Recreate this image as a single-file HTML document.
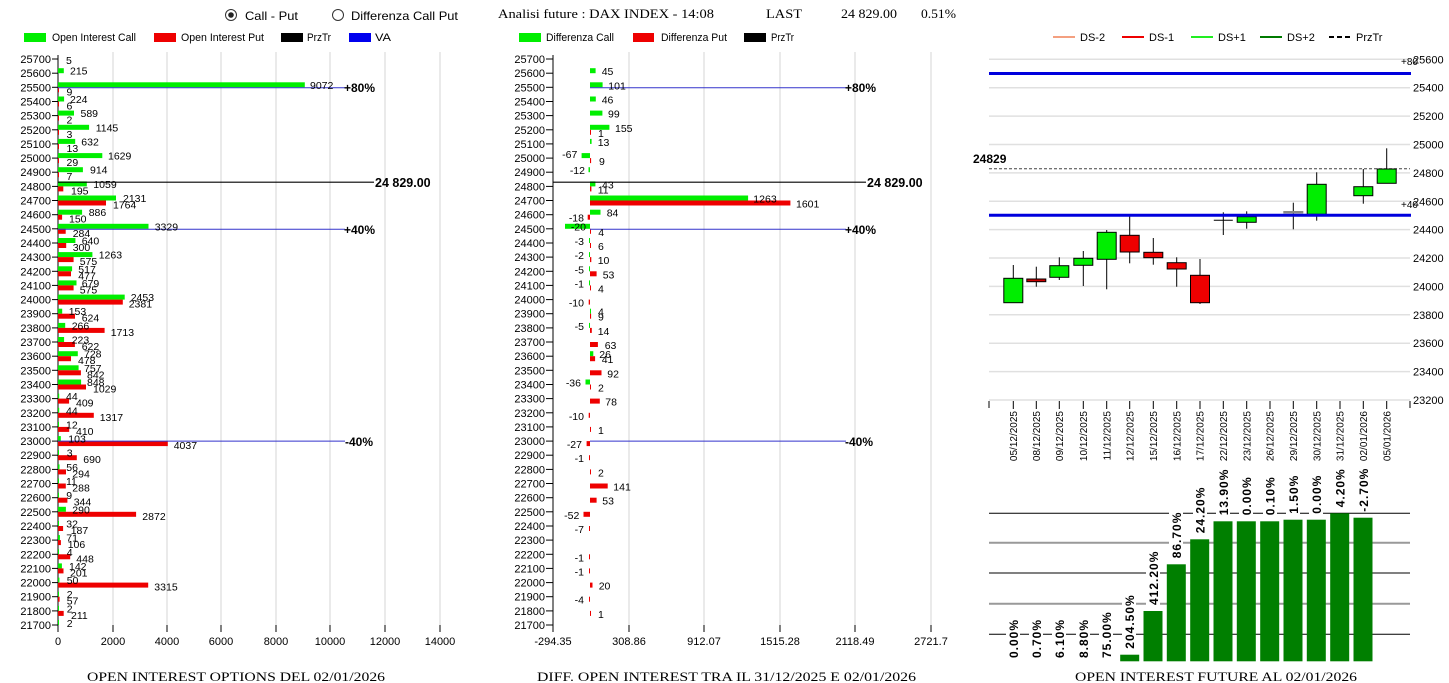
<!DOCTYPE html>
<html><head><meta charset="utf-8"><style>
html,body{margin:0;padding:0;background:#fff;}
svg{display:block;font-family:"Liberation Sans",sans-serif;}
.t{font-size:10.5px;fill:#000;}
.ax{font-size:11px;fill:#000;}
.n{font-family:"Liberation Sans",sans-serif;font-size:11px;}
.sf{font-family:"Liberation Serif",serif;font-size:12.5px;}
.b{font-weight:bold;font-size:12px;}
.g{fill:#00ee00}.r{fill:#ee0000}
</style></head><body>
<svg width="1449" height="683" viewBox="0 0 1449 683" xmlns="http://www.w3.org/2000/svg">
<!-- header -->
<circle cx="231" cy="15" r="5.5" fill="#fff" stroke="#333"/><circle cx="231" cy="15" r="2.8" fill="#222"/>
<text x="245" y="20" font-size="12" textLength="53" lengthAdjust="spacingAndGlyphs">Call - Put</text>
<circle cx="338" cy="15" r="5.5" fill="#fff" stroke="#333"/>
<text x="351" y="20" font-size="12" textLength="107" lengthAdjust="spacingAndGlyphs">Differenza Call Put</text>
<text class="sf" x="498" y="18" textLength="216" lengthAdjust="spacingAndGlyphs">Analisi future : DAX INDEX - 14:08</text>
<text class="sf" x="766" y="18" textLength="36" lengthAdjust="spacingAndGlyphs">LAST</text>
<text class="sf" x="841" y="18" textLength="56" lengthAdjust="spacingAndGlyphs">24 829.00</text>
<text class="sf" x="921" y="18" textLength="35" lengthAdjust="spacingAndGlyphs">0.51%</text>
<!-- legends -->
<rect x="24" y="33" width="22" height="9" fill="#00ee00"/><text class="n" x="52" y="41" textLength="84" lengthAdjust="spacingAndGlyphs">Open Interest Call</text>
<rect x="154" y="33" width="22" height="9" fill="#ee0000"/><text class="n" x="181" y="41" textLength="83" lengthAdjust="spacingAndGlyphs">Open Interest Put</text>
<rect x="281" y="33" width="22" height="9" fill="#000"/><text class="n" x="307" y="41" textLength="24" lengthAdjust="spacingAndGlyphs">PrzTr</text>
<rect x="349" y="33" width="22" height="9" fill="#0000ee"/><text class="n" x="375" y="41" textLength="16" lengthAdjust="spacingAndGlyphs">VA</text>
<rect x="519" y="33" width="22" height="9" fill="#00ee00"/><text class="n" x="546" y="41" textLength="68" lengthAdjust="spacingAndGlyphs">Differenza Call</text>
<rect x="633" y="33" width="21" height="9" fill="#ee0000"/><text class="n" x="661" y="41" textLength="66" lengthAdjust="spacingAndGlyphs">Differenza Put</text>
<rect x="744" y="33" width="22" height="9" fill="#000"/><text class="n" x="771" y="41" textLength="23" lengthAdjust="spacingAndGlyphs">PrzTr</text>
<line x1="1053" y1="37" x2="1075" y2="37" stroke="#f4a080" stroke-width="2"/><text class="ax" x="1080" y="41">DS-2</text>
<line x1="1122" y1="37" x2="1144" y2="37" stroke="#ee0000" stroke-width="2"/><text class="ax" x="1149" y="41">DS-1</text>
<line x1="1191" y1="37" x2="1213" y2="37" stroke="#22ee22" stroke-width="2"/><text class="ax" x="1218" y="41">DS+1</text>
<line x1="1260" y1="37" x2="1282" y2="37" stroke="#007a00" stroke-width="2"/><text class="ax" x="1287" y="41">DS+2</text>
<line x1="1329" y1="37" x2="1351" y2="37" stroke="#000" stroke-width="2" stroke-dasharray="5,3"/><text class="ax" x="1356" y="41">PrzTr</text>

<!-- LEFT CHART -->
<g stroke="#d4d4d4" stroke-width="1">
<line x1="113" y1="52" x2="113" y2="625"/><line x1="167" y1="52" x2="167" y2="625"/><line x1="221" y1="52" x2="221" y2="625"/><line x1="276" y1="52" x2="276" y2="625"/><line x1="330" y1="52" x2="330" y2="625"/><line x1="385" y1="52" x2="385" y2="625"/><line x1="440" y1="52" x2="440" y2="625"/>
</g>
<g stroke="#000"><line x1="58" y1="55" x2="58" y2="632"/>
<line x1="58" y1="625" x2="58" y2="632"/><line x1="113" y1="625" x2="113" y2="632"/><line x1="167" y1="625" x2="167" y2="632"/><line x1="221" y1="625" x2="221" y2="632"/><line x1="276" y1="625" x2="276" y2="632"/><line x1="330" y1="625" x2="330" y2="632"/><line x1="385" y1="625" x2="385" y2="632"/><line x1="440" y1="625" x2="440" y2="632"/>
</g>
<g class="ax" text-anchor="middle"><text x="58" y="645">0</text><text x="113" y="645">2000</text><text x="167" y="645">4000</text><text x="221" y="645">6000</text><text x="276" y="645">8000</text><text x="330" y="645">10000</text><text x="385" y="645">12000</text><text x="440" y="645">14000</text></g>
<g stroke="#000">
<line x1="52" y1="59" x2="58" y2="59"/><line x1="52" y1="73.2" x2="58" y2="73.2"/><line x1="52" y1="87.3" x2="58" y2="87.3"/><line x1="52" y1="101.5" x2="58" y2="101.5"/><line x1="52" y1="115.6" x2="58" y2="115.6"/><line x1="52" y1="129.8" x2="58" y2="129.8"/><line x1="52" y1="143.9" x2="58" y2="143.9"/><line x1="52" y1="158.1" x2="58" y2="158.1"/><line x1="52" y1="172.2" x2="58" y2="172.2"/><line x1="52" y1="186.4" x2="58" y2="186.4"/><line x1="52" y1="200.5" x2="58" y2="200.5"/><line x1="52" y1="214.7" x2="58" y2="214.7"/><line x1="52" y1="228.8" x2="58" y2="228.8"/><line x1="52" y1="243" x2="58" y2="243"/><line x1="52" y1="257.1" x2="58" y2="257.1"/><line x1="52" y1="271.3" x2="58" y2="271.3"/><line x1="52" y1="285.4" x2="58" y2="285.4"/><line x1="52" y1="299.6" x2="58" y2="299.6"/><line x1="52" y1="313.7" x2="58" y2="313.7"/><line x1="52" y1="327.9" x2="58" y2="327.9"/><line x1="52" y1="342" x2="58" y2="342"/><line x1="52" y1="356.2" x2="58" y2="356.2"/><line x1="52" y1="370.3" x2="58" y2="370.3"/><line x1="52" y1="384.5" x2="58" y2="384.5"/><line x1="52" y1="398.6" x2="58" y2="398.6"/><line x1="52" y1="412.8" x2="58" y2="412.8"/><line x1="52" y1="426.9" x2="58" y2="426.9"/><line x1="52" y1="441.1" x2="58" y2="441.1"/><line x1="52" y1="455.2" x2="58" y2="455.2"/><line x1="52" y1="469.4" x2="58" y2="469.4"/><line x1="52" y1="483.5" x2="58" y2="483.5"/><line x1="52" y1="497.7" x2="58" y2="497.7"/><line x1="52" y1="511.8" x2="58" y2="511.8"/><line x1="52" y1="526" x2="58" y2="526"/><line x1="52" y1="540.1" x2="58" y2="540.1"/><line x1="52" y1="554.3" x2="58" y2="554.3"/><line x1="52" y1="568.4" x2="58" y2="568.4"/><line x1="52" y1="582.6" x2="58" y2="582.6"/><line x1="52" y1="596.7" x2="58" y2="596.7"/><line x1="52" y1="610.9" x2="58" y2="610.9"/><line x1="52" y1="625" x2="58" y2="625"/>
</g>
<g class="ax" text-anchor="end">
<text x="51" y="63">25700</text><text x="51" y="77.2">25600</text><text x="51" y="91.3">25500</text><text x="51" y="105.5">25400</text><text x="51" y="119.6">25300</text><text x="51" y="133.8">25200</text><text x="51" y="147.9">25100</text><text x="51" y="162.1">25000</text><text x="51" y="176.2">24900</text><text x="51" y="190.4">24800</text><text x="51" y="204.5">24700</text><text x="51" y="218.7">24600</text><text x="51" y="232.8">24500</text><text x="51" y="247">24400</text><text x="51" y="261.1">24300</text><text x="51" y="275.3">24200</text><text x="51" y="289.4">24100</text><text x="51" y="303.6">24000</text><text x="51" y="317.7">23900</text><text x="51" y="331.9">23800</text><text x="51" y="346">23700</text><text x="51" y="360.2">23600</text><text x="51" y="374.3">23500</text><text x="51" y="388.5">23400</text><text x="51" y="402.6">23300</text><text x="51" y="416.8">23200</text><text x="51" y="430.9">23100</text><text x="51" y="445.1">23000</text><text x="51" y="459.2">22900</text><text x="51" y="473.4">22800</text><text x="51" y="487.5">22700</text><text x="51" y="501.7">22600</text><text x="51" y="515.8">22500</text><text x="51" y="530">22400</text><text x="51" y="544.1">22300</text><text x="51" y="558.3">22200</text><text x="51" y="572.4">22100</text><text x="51" y="586.6">22000</text><text x="51" y="600.7">21900</text><text x="51" y="614.9">21800</text><text x="51" y="629">21700</text>
</g>
<g class="g">
<rect x="58" y="68.2" width="5.8" height="5"/><rect x="58" y="82.3" width="246.8" height="5"/><rect x="58" y="96.5" width="6.1" height="5"/><rect x="58" y="110.6" width="16" height="5"/><rect x="58" y="124.8" width="31.1" height="5"/><rect x="58" y="138.9" width="17.2" height="5"/><rect x="58" y="153.1" width="44.3" height="5"/><rect x="58" y="167.2" width="24.9" height="5"/><rect x="58" y="181.4" width="28.8" height="5"/><rect x="58" y="195.5" width="58" height="5"/><rect x="58" y="209.7" width="24.1" height="5"/><rect x="58" y="223.8" width="90.5" height="5"/><rect x="58" y="238" width="17.4" height="5"/><rect x="58" y="252.1" width="34.4" height="5"/><rect x="58" y="266.3" width="14.1" height="5"/><rect x="58" y="280.4" width="18.5" height="5"/><rect x="58" y="294.6" width="66.7" height="5"/><rect x="58" y="308.7" width="4.2" height="5"/><rect x="58" y="322.9" width="7.2" height="5"/><rect x="58" y="337" width="6.1" height="5"/><rect x="58" y="351.2" width="19.8" height="5"/><rect x="58" y="365.3" width="20.6" height="5"/><rect x="58" y="379.5" width="23.1" height="5"/><rect x="58" y="393.6" width="1.2" height="5"/><rect x="58" y="407.8" width="1.2" height="5"/><rect x="58" y="421.9" width="1" height="5"/><rect x="58" y="436.1" width="2.8" height="5"/><rect x="58" y="450.2" width="1" height="5"/><rect x="58" y="464.4" width="1.5" height="5"/><rect x="58" y="478.5" width="1" height="5"/><rect x="58" y="492.7" width="1" height="5"/><rect x="58" y="506.8" width="7.9" height="5"/><rect x="58" y="521" width="1" height="5"/><rect x="58" y="535.1" width="1.9" height="5"/><rect x="58" y="549.3" width="1" height="5"/><rect x="58" y="563.4" width="3.9" height="5"/><rect x="58" y="577.6" width="1.4" height="5"/><rect x="58" y="591.7" width="1" height="5"/><rect x="58" y="605.9" width="1" height="5"/><rect x="58" y="620" width="1" height="5"/>
</g>
<g class="r">
<rect x="58" y="87.3" width="1" height="5"/><rect x="58" y="101.5" width="1" height="5"/><rect x="58" y="115.6" width="1" height="5"/><rect x="58" y="129.8" width="1" height="5"/><rect x="58" y="143.9" width="1" height="5"/><rect x="58" y="158.1" width="1" height="5"/><rect x="58" y="172.2" width="1" height="5"/><rect x="58" y="186.4" width="5.3" height="5"/><rect x="58" y="200.5" width="48" height="5"/><rect x="58" y="214.7" width="4.1" height="5"/><rect x="58" y="228.8" width="7.7" height="5"/><rect x="58" y="243" width="8.2" height="5"/><rect x="58" y="257.1" width="15.6" height="5"/><rect x="58" y="271.3" width="13" height="5"/><rect x="58" y="285.4" width="15.6" height="5"/><rect x="58" y="299.6" width="64.8" height="5"/><rect x="58" y="313.7" width="17" height="5"/><rect x="58" y="327.9" width="46.6" height="5"/><rect x="58" y="342" width="16.9" height="5"/><rect x="58" y="356.2" width="13" height="5"/><rect x="58" y="370.3" width="22.9" height="5"/><rect x="58" y="384.5" width="28" height="5"/><rect x="58" y="398.6" width="11.1" height="5"/><rect x="58" y="412.8" width="35.8" height="5"/><rect x="58" y="426.9" width="11.2" height="5"/><rect x="58" y="441.1" width="109.8" height="5"/><rect x="58" y="455.2" width="18.8" height="5"/><rect x="58" y="469.4" width="8" height="5"/><rect x="58" y="483.5" width="7.8" height="5"/><rect x="58" y="497.7" width="9.4" height="5"/><rect x="58" y="511.8" width="78.1" height="5"/><rect x="58" y="526" width="5.1" height="5"/><rect x="58" y="540.1" width="2.9" height="5"/><rect x="58" y="554.3" width="12.2" height="5"/><rect x="58" y="568.4" width="5.5" height="5"/><rect x="58" y="582.6" width="90.2" height="5"/><rect x="58" y="596.7" width="1.6" height="5"/><rect x="58" y="610.9" width="5.7" height="5"/>
</g>
<line x1="58" y1="182.2" x2="374" y2="182.2" stroke="#000" stroke-width="1.2"/>
<text x="375" y="187" font-size="12.5" font-weight="bold">24 829.00</text>
<g stroke="#3333cc" stroke-width="1"><line x1="58" y1="87.8" x2="345" y2="87.8"/><line x1="58" y1="229.3" x2="345" y2="229.3"/><line x1="58" y1="441.1" x2="345" y2="441.1"/></g>
<g class="b"><text x="344" y="92">+80%</text><text x="344" y="234">+40%</text><text x="345" y="446">-40%</text></g>
<g class="t">
<text x="66" y="64">5</text>
<text x="70" y="74.7">215</text><text x="310" y="88.8">9072</text><text x="66.5" y="95.3">9</text>
<text x="70" y="103">224</text><text x="66.5" y="109.5">6</text>
<text x="80.5" y="117.1">589</text><text x="66.5" y="123.6">2</text>
<text x="95.7" y="131.3">1145</text><text x="66.5" y="137.8">3</text>
<text x="81.3" y="145.4">632</text><text x="66.5" y="151.9">13</text>
<text x="108" y="159.6">1629</text><text x="66.5" y="166.1">29</text>
<text x="90" y="173.7">914</text><text x="66.5" y="180.2">7</text>
<text x="93.3" y="187.9">1059</text><text x="71" y="194.4">195</text>
<text x="123" y="202">2131</text><text x="113" y="208.5">1764</text>
<text x="88.7" y="216.2">886</text><text x="69" y="222.7">150</text>
<text x="154.7" y="230.3">3329</text><text x="72.7" y="236.8">284</text>
<text x="81.7" y="244.5">640</text><text x="72.7" y="251">300</text>
<text x="98.7" y="258.6">1263</text><text x="79.7" y="265.1">575</text>
<text x="78.3" y="272.8">517</text><text x="78.3" y="279.3">477</text>
<text x="81.7" y="286.9">679</text><text x="79.7" y="293.4">575</text>
<text x="130.7" y="301.1">2453</text><text x="128.7" y="307.6">2381</text>
<text x="68.7" y="315.2">153</text><text x="81.7" y="321.7">624</text>
<text x="71.7" y="329.4">266</text><text x="110.7" y="335.9">1713</text>
<text x="71.7" y="343.5">223</text><text x="81.7" y="350">622</text>
<text x="84" y="357.7">728</text><text x="78" y="364.2">478</text>
<text x="84" y="371.8">757</text><text x="87" y="378.3">842</text>
<text x="87" y="386">848</text><text x="93" y="392.5">1029</text>
<text x="66" y="400.1">44</text><text x="76" y="406.6">409</text>
<text x="66" y="414.3">44</text><text x="99.7" y="420.8">1317</text>
<text x="66" y="428.4">12</text><text x="76" y="434.9">410</text>
<text x="68.3" y="442.6">103</text><text x="173.7" y="449.1">4037</text>
<text x="66.7" y="456.7">3</text><text x="83.3" y="463.2">690</text>
<text x="66.3" y="470.9">56</text><text x="72.3" y="477.4">294</text>
<text x="66" y="485">11</text><text x="72.3" y="491.5">288</text>
<text x="66.3" y="499.2">9</text><text x="73.7" y="505.7">344</text>
<text x="72.3" y="513.3">290</text><text x="142.3" y="519.8">2872</text>
<text x="66.3" y="527.5">32</text><text x="70.7" y="534">187</text>
<text x="66.3" y="541.6">71</text><text x="67.7" y="548.1">106</text>
<text x="66.7" y="555.8">4</text><text x="76.3" y="562.3">448</text>
<text x="69" y="569.9">142</text><text x="70" y="576.4">201</text>
<text x="66.7" y="584.1">50</text><text x="154.3" y="590.6">3315</text>
<text x="66.7" y="598.2">2</text><text x="66.7" y="604.7">57</text>
<text x="66.7" y="612.4">2</text><text x="71" y="618.9">211</text>
<text x="66.7" y="627">2</text>
</g>
<text class="sf" x="87" y="681" font-size="13" textLength="298" lengthAdjust="spacingAndGlyphs">OPEN INTEREST OPTIONS DEL 02/01/2026</text>

<!-- MIDDLE CHART -->
<g stroke="#d4d4d4"><line x1="629" y1="52" x2="629" y2="625"/><line x1="704" y1="52" x2="704" y2="625"/><line x1="780" y1="52" x2="780" y2="625"/><line x1="855" y1="52" x2="855" y2="625"/><line x1="931" y1="52" x2="931" y2="625"/></g>
<g stroke="#000"><line x1="553" y1="55" x2="553" y2="632"/>
<line x1="629" y1="625" x2="629" y2="632"/><line x1="704" y1="625" x2="704" y2="632"/><line x1="780" y1="625" x2="780" y2="632"/><line x1="855" y1="625" x2="855" y2="632"/><line x1="931" y1="625" x2="931" y2="632"/>
<line x1="546" y1="59" x2="553" y2="59"/><line x1="546" y1="73.2" x2="553" y2="73.2"/><line x1="546" y1="87.3" x2="553" y2="87.3"/><line x1="546" y1="101.5" x2="553" y2="101.5"/><line x1="546" y1="115.6" x2="553" y2="115.6"/><line x1="546" y1="129.8" x2="553" y2="129.8"/><line x1="546" y1="143.9" x2="553" y2="143.9"/><line x1="546" y1="158.1" x2="553" y2="158.1"/><line x1="546" y1="172.2" x2="553" y2="172.2"/><line x1="546" y1="186.4" x2="553" y2="186.4"/><line x1="546" y1="200.5" x2="553" y2="200.5"/><line x1="546" y1="214.7" x2="553" y2="214.7"/><line x1="546" y1="228.8" x2="553" y2="228.8"/><line x1="546" y1="243" x2="553" y2="243"/><line x1="546" y1="257.1" x2="553" y2="257.1"/><line x1="546" y1="271.3" x2="553" y2="271.3"/><line x1="546" y1="285.4" x2="553" y2="285.4"/><line x1="546" y1="299.6" x2="553" y2="299.6"/><line x1="546" y1="313.7" x2="553" y2="313.7"/><line x1="546" y1="327.9" x2="553" y2="327.9"/><line x1="546" y1="342" x2="553" y2="342"/><line x1="546" y1="356.2" x2="553" y2="356.2"/><line x1="546" y1="370.3" x2="553" y2="370.3"/><line x1="546" y1="384.5" x2="553" y2="384.5"/><line x1="546" y1="398.6" x2="553" y2="398.6"/><line x1="546" y1="412.8" x2="553" y2="412.8"/><line x1="546" y1="426.9" x2="553" y2="426.9"/><line x1="546" y1="441.1" x2="553" y2="441.1"/><line x1="546" y1="455.2" x2="553" y2="455.2"/><line x1="546" y1="469.4" x2="553" y2="469.4"/><line x1="546" y1="483.5" x2="553" y2="483.5"/><line x1="546" y1="497.7" x2="553" y2="497.7"/><line x1="546" y1="511.8" x2="553" y2="511.8"/><line x1="546" y1="526" x2="553" y2="526"/><line x1="546" y1="540.1" x2="553" y2="540.1"/><line x1="546" y1="554.3" x2="553" y2="554.3"/><line x1="546" y1="568.4" x2="553" y2="568.4"/><line x1="546" y1="582.6" x2="553" y2="582.6"/><line x1="546" y1="596.7" x2="553" y2="596.7"/><line x1="546" y1="610.9" x2="553" y2="610.9"/><line x1="546" y1="625" x2="553" y2="625"/>
</g>
<g class="ax" text-anchor="end">
<text x="545" y="63">25700</text><text x="545" y="77.2">25600</text><text x="545" y="91.3">25500</text><text x="545" y="105.5">25400</text><text x="545" y="119.6">25300</text><text x="545" y="133.8">25200</text><text x="545" y="147.9">25100</text><text x="545" y="162.1">25000</text><text x="545" y="176.2">24900</text><text x="545" y="190.4">24800</text><text x="545" y="204.5">24700</text><text x="545" y="218.7">24600</text><text x="545" y="232.8">24500</text><text x="545" y="247">24400</text><text x="545" y="261.1">24300</text><text x="545" y="275.3">24200</text><text x="545" y="289.4">24100</text><text x="545" y="303.6">24000</text><text x="545" y="317.7">23900</text><text x="545" y="331.9">23800</text><text x="545" y="346">23700</text><text x="545" y="360.2">23600</text><text x="545" y="374.3">23500</text><text x="545" y="388.5">23400</text><text x="545" y="402.6">23300</text><text x="545" y="416.8">23200</text><text x="545" y="430.9">23100</text><text x="545" y="445.1">23000</text><text x="545" y="459.2">22900</text><text x="545" y="473.4">22800</text><text x="545" y="487.5">22700</text><text x="545" y="501.7">22600</text><text x="545" y="515.8">22500</text><text x="545" y="530">22400</text><text x="545" y="544.1">22300</text><text x="545" y="558.3">22200</text><text x="545" y="572.4">22100</text><text x="545" y="586.6">22000</text><text x="545" y="600.7">21900</text><text x="545" y="614.9">21800</text><text x="545" y="629">21700</text>
</g>
<g class="ax" text-anchor="middle"><text x="553" y="645">-294.35</text><text x="629" y="645">308.86</text><text x="704" y="645">912.07</text><text x="780" y="645">1515.28</text><text x="855" y="645">2118.49</text><text x="931" y="645">2721.7</text></g>
<g class="g">
<rect x="590" y="68.2" width="5.6" height="5"/><rect x="590" y="82.3" width="12.6" height="5"/><rect x="590" y="96.5" width="5.8" height="5"/><rect x="590" y="110.6" width="12.4" height="5"/><rect x="590" y="124.8" width="19.4" height="5"/><rect x="590" y="138.9" width="1.6" height="5"/><rect x="581.6" y="153.1" width="8.4" height="5"/><rect x="588.5" y="167.2" width="1.5" height="5"/><rect x="590" y="181.4" width="5.4" height="5"/><rect x="590" y="195.5" width="158.1" height="5"/><rect x="590" y="209.7" width="10.5" height="5"/><rect x="565" y="223.8" width="25" height="5"/><rect x="589" y="238" width="1" height="5"/><rect x="589" y="252.1" width="1" height="5"/><rect x="589" y="266.3" width="1" height="5"/><rect x="589" y="280.4" width="1" height="5"/><rect x="590" y="308.7" width="1" height="5"/><rect x="589" y="322.9" width="1" height="5"/><rect x="590" y="351.2" width="3.3" height="5"/><rect x="585.5" y="379.5" width="4.5" height="5"/>
</g>
<g class="r">
<rect x="590" y="129.8" width="1" height="5"/><rect x="590" y="158.1" width="1.1" height="5"/><rect x="590" y="186.4" width="1.4" height="5"/><rect x="590" y="200.5" width="200.4" height="5"/><rect x="587.7" y="214.7" width="2.3" height="5"/><rect x="590" y="228.8" width="1" height="5"/><rect x="590" y="243" width="1" height="5"/><rect x="590" y="257.1" width="1.3" height="5"/><rect x="590" y="271.3" width="6.6" height="5"/><rect x="590" y="285.4" width="1" height="5"/><rect x="588.7" y="299.6" width="1.3" height="5"/><rect x="590" y="313.7" width="1.1" height="5"/><rect x="590" y="327.9" width="1.8" height="5"/><rect x="590" y="342" width="7.9" height="5"/><rect x="590" y="356.2" width="5.1" height="5"/><rect x="590" y="370.3" width="11.5" height="5"/><rect x="590" y="384.5" width="1" height="5"/><rect x="590" y="398.6" width="9.8" height="5"/><rect x="588.7" y="412.8" width="1.3" height="5"/><rect x="590" y="426.9" width="1" height="5"/><rect x="586.6" y="441.1" width="3.4" height="5"/><rect x="589" y="455.2" width="1" height="5"/><rect x="590" y="469.4" width="1" height="5"/><rect x="590" y="483.5" width="17.7" height="5"/><rect x="590" y="497.7" width="6.6" height="5"/><rect x="583.5" y="511.8" width="6.5" height="5"/><rect x="589" y="526" width="1" height="5"/><rect x="589" y="554.3" width="1" height="5"/><rect x="589" y="568.4" width="1" height="5"/><rect x="590" y="582.6" width="2.5" height="5"/><rect x="589" y="596.7" width="1" height="5"/><rect x="590" y="610.9" width="1" height="5"/>
</g>
<line x1="553" y1="182.2" x2="866" y2="182.2" stroke="#000" stroke-width="1.2"/>
<text x="867" y="187" font-size="12.5" font-weight="bold">24 829.00</text>
<g stroke="#3333cc"><line x1="590" y1="87.8" x2="846" y2="87.8"/><line x1="590" y1="229.3" x2="846" y2="229.3"/><line x1="590" y1="441.1" x2="846" y2="441.1"/></g>
<g class="b"><text x="845" y="92">+80%</text><text x="845" y="234">+40%</text><text x="845" y="446">-40%</text></g>
<g class="t">
<text x="601.7" y="75.2">45</text><text x="608.3" y="89.3">101</text><text x="601.7" y="103.5">46</text><text x="608" y="117.6">99</text><text x="615" y="131.8">155</text><text x="598" y="136.8">1</text>
<text x="597.7" y="145.9">13</text>
<text x="577.3" y="158.1" text-anchor="end">-67</text><text x="599" y="165.1">9</text>
<text x="585" y="174.2" text-anchor="end">-12</text>
<text x="602" y="188.4">43</text><text x="597.7" y="193.4">11</text>
<text x="753.3" y="202.5">1263</text><text x="796" y="207.5">1601</text>
<text x="606.7" y="216.7">84</text><text x="584" y="221.7" text-anchor="end">-18</text>
<text x="586" y="230.3" text-anchor="end">-20</text><text x="598.3" y="235.8">4</text>
<text x="584" y="245" text-anchor="end">-3</text><text x="598" y="250">6</text>
<text x="584" y="259.1" text-anchor="end">-2</text><text x="597.7" y="264.1">10</text>
<text x="584" y="273.3" text-anchor="end">-5</text><text x="602.7" y="278.3">53</text>
<text x="584" y="287.4" text-anchor="end">-1</text><text x="598" y="292.4">4</text>
<text x="584" y="306.6" text-anchor="end">-10</text>
<text x="598" y="315.7">4</text><text x="598" y="320.7">9</text>
<text x="584" y="329.9" text-anchor="end">-5</text><text x="597.7" y="334.9">14</text>
<text x="604.7" y="349">63</text>
<text x="599.3" y="358.2">26</text><text x="601.7" y="363.2">41</text>
<text x="607.3" y="377.3">92</text>
<text x="581" y="386.5" text-anchor="end">-36</text><text x="598" y="391.5">2</text>
<text x="605.3" y="405.6">78</text>
<text x="584" y="419.8" text-anchor="end">-10</text>
<text x="598" y="433.9">1</text>
<text x="582" y="448.1" text-anchor="end">-27</text>
<text x="584" y="462.2" text-anchor="end">-1</text>
<text x="598" y="476.4">2</text>
<text x="613.3" y="490.5">141</text>
<text x="602.3" y="504.7">53</text>
<text x="579.3" y="518.8" text-anchor="end">-52</text>
<text x="584" y="533" text-anchor="end">-7</text>
<text x="584" y="561.3" text-anchor="end">-1</text>
<text x="584" y="575.4" text-anchor="end">-1</text>
<text x="598.7" y="589.6">20</text>
<text x="584" y="603.7" text-anchor="end">-4</text>
<text x="598" y="617.9">1</text>
</g>
<text class="sf" x="537" y="681" font-size="13" textLength="379" lengthAdjust="spacingAndGlyphs">DIFF. OPEN INTEREST TRA IL 31/12/2025 E 02/01/2026</text>

<!-- RIGHT CANDLE CHART -->
<g stroke="#e0e0e0" stroke-width="1.5">
<line x1="989" y1="59.3" x2="1410" y2="59.3"/><line x1="989" y1="87.7" x2="1410" y2="87.7"/><line x1="989" y1="116.1" x2="1410" y2="116.1"/><line x1="989" y1="144.5" x2="1410" y2="144.5"/><line x1="989" y1="172.9" x2="1410" y2="172.9"/><line x1="989" y1="201.3" x2="1410" y2="201.3"/><line x1="989" y1="229.6" x2="1410" y2="229.6"/><line x1="989" y1="258" x2="1410" y2="258"/><line x1="989" y1="286.4" x2="1410" y2="286.4"/><line x1="989" y1="314.8" x2="1410" y2="314.8"/><line x1="989" y1="343.2" x2="1410" y2="343.2"/><line x1="989" y1="371.6" x2="1410" y2="371.6"/><line x1="989" y1="400" x2="1410" y2="400"/>
</g>
<g class="ax">
<text x="1413" y="63.3">25600</text><text x="1413" y="91.7">25400</text><text x="1413" y="120.1">25200</text><text x="1413" y="148.5">25000</text><text x="1413" y="176.9">24800</text><text x="1413" y="205.3">24600</text><text x="1413" y="233.6">24400</text><text x="1413" y="262">24200</text><text x="1413" y="290.4">24000</text><text x="1413" y="318.8">23800</text><text x="1413" y="347.2">23600</text><text x="1413" y="375.6">23400</text><text x="1413" y="404">23200</text>
<text x="1401" y="65" font-size="10">+80</text><text x="1401" y="208" font-size="10">+40</text>
</g>
<line x1="989" y1="168.7" x2="1410" y2="168.7" stroke="#444" stroke-dasharray="3,2"/>
<text x="973" y="163" font-size="12" font-weight="bold">24829</text>
<g stroke="#000">
<line x1="1013.3" y1="265" x2="1013.3" y2="303"/><rect x="1003.8" y="278.3" width="19" height="24.4" fill="#00ee00"/>
<line x1="1036.3" y1="266.7" x2="1036.3" y2="286.7"/><rect x="1026.8" y="279" width="19" height="2.7" fill="#cc0000"/>
<line x1="1059.3" y1="257.3" x2="1059.3" y2="280"/><rect x="1049.8" y="265.7" width="19" height="11.6" fill="#00ee00"/>
<line x1="1083.3" y1="251" x2="1083.3" y2="286"/><rect x="1073.8" y="258.3" width="19" height="7" fill="#00ee00"/>
<line x1="1106.7" y1="230" x2="1106.7" y2="289.3"/><rect x="1097.2" y="232.3" width="19" height="27" fill="#00ee00"/>
<line x1="1129.7" y1="215.7" x2="1129.7" y2="263.3"/><rect x="1120.2" y="235.3" width="19" height="16.7" fill="#ee0000"/>
<line x1="1153.3" y1="238" x2="1153.3" y2="264.7"/><rect x="1143.8" y="252.3" width="19" height="5.4" fill="#ee0000"/>
<line x1="1176.7" y1="257.3" x2="1176.7" y2="286.7"/><rect x="1167.2" y="262.7" width="19" height="6.3" fill="#ee0000"/>
<line x1="1200" y1="259" x2="1200" y2="304"/><rect x="1190.5" y="275.3" width="19" height="27.4" fill="#ee0000"/>
<line x1="1223.3" y1="212.3" x2="1223.3" y2="235"/><line x1="1213.8" y1="220.3" x2="1232.8" y2="220.3"/>
<line x1="1246.7" y1="211.3" x2="1246.7" y2="228.7"/><rect x="1237.2" y="216.7" width="19" height="5.6" fill="#00ee00"/>
<line x1="1293.3" y1="202.7" x2="1293.3" y2="229.3"/><rect x="1283.8" y="211.5" width="19" height="1.5" fill="#888" stroke="#888"/>
<line x1="1316.7" y1="172.3" x2="1316.7" y2="220.7"/><rect x="1307.2" y="184.3" width="19" height="30" fill="#00ee00"/>
<line x1="1363.3" y1="169" x2="1363.3" y2="203.7"/><rect x="1353.8" y="186.7" width="19" height="9" fill="#00ee00"/>
<line x1="1386.7" y1="148.3" x2="1386.7" y2="169"/><rect x="1377.2" y="169" width="19" height="14.3" fill="#00ee00"/>
</g>
<g stroke="#0000dd" stroke-width="3"><line x1="989" y1="73.5" x2="1411" y2="73.5"/><line x1="989" y1="215.3" x2="1411" y2="215.3"/></g>
<g stroke="#000">
<line x1="989" y1="401" x2="989" y2="408"/><line x1="1410" y1="401" x2="1410" y2="408"/>
<line x1="1013.3" y1="401" x2="1013.3" y2="409"/><line x1="1036.3" y1="401" x2="1036.3" y2="409"/><line x1="1059.3" y1="401" x2="1059.3" y2="409"/><line x1="1083.3" y1="401" x2="1083.3" y2="409"/><line x1="1106.7" y1="401" x2="1106.7" y2="409"/><line x1="1129.7" y1="401" x2="1129.7" y2="409"/><line x1="1153.3" y1="401" x2="1153.3" y2="409"/><line x1="1176.7" y1="401" x2="1176.7" y2="409"/><line x1="1200" y1="401" x2="1200" y2="409"/><line x1="1223.3" y1="401" x2="1223.3" y2="409"/><line x1="1246.7" y1="401" x2="1246.7" y2="409"/><line x1="1270" y1="401" x2="1270" y2="409"/><line x1="1293.3" y1="401" x2="1293.3" y2="409"/><line x1="1316.7" y1="401" x2="1316.7" y2="409"/><line x1="1340" y1="401" x2="1340" y2="409"/><line x1="1363.3" y1="401" x2="1363.3" y2="409"/><line x1="1386.7" y1="401" x2="1386.7" y2="409"/>
</g>
<g font-size="10" text-anchor="end">
<text transform="translate(1017,411) rotate(-90)">05/12/2025</text>
<text transform="translate(1040,411) rotate(-90)">08/12/2025</text>
<text transform="translate(1063,411) rotate(-90)">09/12/2025</text>
<text transform="translate(1087,411) rotate(-90)">10/12/2025</text>
<text transform="translate(1110.4,411) rotate(-90)">11/12/2025</text>
<text transform="translate(1133.4,411) rotate(-90)">12/12/2025</text>
<text transform="translate(1157,411) rotate(-90)">15/12/2025</text>
<text transform="translate(1180.4,411) rotate(-90)">16/12/2025</text>
<text transform="translate(1203.7,411) rotate(-90)">17/12/2025</text>
<text transform="translate(1227,411) rotate(-90)">22/12/2025</text>
<text transform="translate(1250.4,411) rotate(-90)">23/12/2025</text>
<text transform="translate(1273.7,411) rotate(-90)">26/12/2025</text>
<text transform="translate(1297,411) rotate(-90)">29/12/2025</text>
<text transform="translate(1320.4,411) rotate(-90)">30/12/2025</text>
<text transform="translate(1343.7,411) rotate(-90)">31/12/2025</text>
<text transform="translate(1367,411) rotate(-90)">02/01/2026</text>
<text transform="translate(1390.4,411) rotate(-90)">05/01/2026</text>
</g>

<!-- BOTTOM RIGHT BAR CHART -->
<line x1="989" y1="513.3" x2="1410" y2="513.3" stroke="#000"/>
<line x1="989" y1="542.7" x2="1410" y2="542.7" stroke="#999" stroke-width="2"/>
<line x1="989" y1="573" x2="1410" y2="573" stroke="#000"/>
<line x1="989" y1="603.7" x2="1410" y2="603.7" stroke="#999" stroke-width="2"/>
<line x1="989" y1="634.3" x2="1410" y2="634.3" stroke="#000"/>
<g fill="#007f00">
<rect x="1120.2" y="654.7" width="19" height="6.6"/><rect x="1143.5" y="611" width="19" height="50.3"/><rect x="1166.8" y="564.3" width="19" height="97"/><rect x="1190.2" y="539.3" width="19" height="122"/><rect x="1213.5" y="521.3" width="19" height="140"/><rect x="1236.8" y="521.3" width="19" height="140"/><rect x="1260.2" y="521.3" width="19" height="140"/><rect x="1283.5" y="519.7" width="19" height="141.6"/><rect x="1306.8" y="519.7" width="19" height="141.6"/><rect x="1330.2" y="513.3" width="19" height="148"/><rect x="1353.5" y="517.7" width="19" height="143.6"/>
</g>
<g fill="#fff">
<rect x="1006" y="619" width="14" height="39"/><rect x="1029" y="619" width="14" height="39"/><rect x="1052" y="619" width="14" height="39"/><rect x="1076" y="619" width="14" height="39"/><rect x="1099" y="611" width="14" height="47"/><rect x="1122" y="594" width="14" height="54"/><rect x="1146" y="551" width="14" height="54"/><rect x="1169" y="511" width="14" height="47"/><rect x="1193" y="486" width="14" height="47"/><rect x="1216" y="468" width="14" height="47"/><rect x="1239" y="476" width="14" height="39"/><rect x="1263" y="476" width="14" height="39"/><rect x="1286" y="475" width="14" height="39"/><rect x="1309" y="475" width="14" height="39"/><rect x="1333" y="468" width="14" height="39"/><rect x="1356" y="467" width="14" height="44"/>
</g>
<g class="b" letter-spacing="1">
<text transform="translate(1017.8,658) rotate(-90)">0.00%</text>
<text transform="translate(1040.8,658) rotate(-90)">0.70%</text>
<text transform="translate(1063.8,658) rotate(-90)">6.10%</text>
<text transform="translate(1087.8,658) rotate(-90)">8.80%</text>
<text transform="translate(1111.2,658) rotate(-90)">75.00%</text>
<text transform="translate(1134.2,648.7) rotate(-90)">204.50%</text>
<text transform="translate(1157.8,605) rotate(-90)">412.20%</text>
<text transform="translate(1181.2,558.3) rotate(-90)">86.70%</text>
<text transform="translate(1204.5,533.3) rotate(-90)">24.20%</text>
<text transform="translate(1227.8,515.3) rotate(-90)">13.90%</text>
<text transform="translate(1251.2,515.3) rotate(-90)">0.00%</text>
<text transform="translate(1274.5,515.3) rotate(-90)">0.10%</text>
<text transform="translate(1297.8,513.7) rotate(-90)">1.50%</text>
<text transform="translate(1321.2,513.7) rotate(-90)">0.00%</text>
<text transform="translate(1344.5,507.3) rotate(-90)">4.20%</text>
<text transform="translate(1367.8,511.7) rotate(-90)">-2.70%</text>
</g>
<text class="sf" x="1075" y="681" font-size="13" textLength="282" lengthAdjust="spacingAndGlyphs">OPEN INTEREST FUTURE AL 02/01/2026</text>
</svg>
</body></html>
